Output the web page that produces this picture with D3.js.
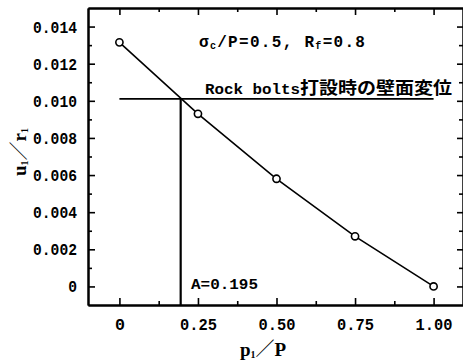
<!DOCTYPE html>
<html>
<head>
<meta charset="utf-8">
<script src="https://cdn.jsdelivr.net/npm/d3@7"></script>
<style>
  body { margin: 0; background: #fff; }
  svg { display: block; }
  .tick text { font-family: "Liberation Mono", "DejaVu Sans Mono", monospace; font-weight: bold; font-size: 17px; fill: #000; }
  .tick line, .domain { stroke: #000; }
</style>
</head>
<body>
<div id="chart"></div>
<script>
// p_i/P and u_i/r_i
var pRatio = [0, 0.25, 0.5, 0.75, 1.0];
var uRatio = [0.01315, 0.0093, 0.0058, 0.0027, 0.0];

var xTicks = [0, 0.25, 0.5, 0.75, 1.0];
var xMinor = [0.125, 0.375, 0.625, 0.875];
var yTicks = [0, 0.002, 0.004, 0.006, 0.008, 0.010, 0.012, 0.014];
var yMinor = [0.001, 0.003, 0.005, 0.007, 0.009, 0.011, 0.013];

var boltP = 0.195, boltU = 0.0101;

var margin = {top: 8, left: 88},
    width = 377,
    height = 297;

var svg = d3.select("#chart")
  .append("svg")
    .attr("width", 463)
    .attr("height", 362)
  .append("g")
    .attr("transform", "translate(" + margin.left + "," + margin.top + ")");

var x = d3.scaleLinear().domain([-0.1, 1.1]).range([0, width]);
var y = d3.scaleLinear().domain([-0.001, 0.015]).range([height, 0]);

function xfmt(d) { return d === 0 ? "0" : d3.format(".2f")(d); }
function yfmt(d) { return d === 0 ? "0" : d3.format(".3f")(d); }

// bottom axis
var xAxis = svg.append("g")
  .attr("transform", "translate(0," + height + ")")
  .call(d3.axisBottom(x).tickValues(xTicks).tickFormat(xfmt).tickSize(-7).tickSizeOuter(0).tickPadding(13));
xAxis.selectAll(".tick text").attr("textLength", function(d) { return xfmt(d).length * 9 + 1; }).attr("lengthAdjust", "spacingAndGlyphs");
svg.append("g")
  .attr("transform", "translate(0," + height + ")")
  .call(d3.axisBottom(x).tickValues(xMinor).tickFormat("").tickSize(-4).tickSizeOuter(0));

// top axis
svg.append("g")
  .call(d3.axisTop(x).tickValues(xTicks).tickFormat("").tickSize(-7).tickSizeOuter(0));
svg.append("g")
  .call(d3.axisTop(x).tickValues(xMinor).tickFormat("").tickSize(-4).tickSizeOuter(0));

// left axis
var yAxis = svg.append("g")
  .call(d3.axisLeft(y).tickValues(yTicks).tickFormat(yfmt).tickSize(-7).tickSizeOuter(0).tickPadding(11));
yAxis.selectAll(".tick text").attr("textLength", function(d) { return yfmt(d).length * 8.8; }).attr("lengthAdjust", "spacingAndGlyphs");
svg.append("g")
  .call(d3.axisLeft(y).tickValues(yMinor).tickFormat("").tickSize(-4).tickSizeOuter(0));

// right axis (mostly cut by the picture edge)
svg.append("g")
  .attr("transform", "translate(" + (width - 2) + ",0)")
  .call(d3.axisRight(y).tickValues(yTicks).tickFormat("").tickSize(-6).tickSizeOuter(0));
svg.append("g")
  .attr("transform", "translate(" + (width - 2) + ",0)")
  .call(d3.axisRight(y).tickValues(yMinor).tickFormat("").tickSize(-4).tickSizeOuter(0));

svg.selectAll(".domain").attr("stroke-width", 2);
svg.selectAll(".tick line").attr("stroke-width", 1.6);

// bolt lines
svg.append("line")
  .attr("x1", x(0)).attr("x2", x(1.0))
  .attr("y1", y(boltU)).attr("y2", y(boltU))
  .attr("stroke", "#000").attr("stroke-width", 1.8);
svg.append("line")
  .attr("x1", x(boltP)).attr("x2", x(boltP))
  .attr("y1", y(boltU)).attr("y2", height)
  .attr("stroke", "#000").attr("stroke-width", 2.2);

// curve
var pts = pRatio.map(function(p, i) { return [p, uRatio[i]]; });
svg.append("path")
  .datum(pts)
  .attr("fill", "none")
  .attr("stroke", "#000")
  .attr("stroke-width", 1.6)
  .attr("d", d3.line().x(function(d) { return x(d[0]); }).y(function(d) { return y(d[1]); }));
svg.selectAll("circle")
  .data(pts)
  .enter()
  .append("circle")
    .attr("cx", function(d) { return x(d[0]); })
    .attr("cy", function(d) { return y(d[1]); })
    .attr("r", 3.6)
    .attr("fill", "#fff")
    .attr("stroke", "#000")
    .attr("stroke-width", 1.6);

// annotations
var mono = "'Liberation Mono', 'DejaVu Sans Mono', monospace";
var t1 = svg.append("text")
  .attr("x", 111).attr("y", 39)
  .attr("letter-spacing", 1.3)
  .attr("font-family", mono).attr("font-weight", "bold").attr("font-size", 16);
t1.append("tspan").text("σ");
t1.append("tspan").attr("font-size", 10).attr("dy", 2).text("c");
t1.append("tspan").attr("dy", -2).text("/P=0.5, R");
t1.append("tspan").attr("font-size", 10).attr("dy", 2).text("f");
t1.append("tspan").attr("dy", -2).text("=0.8");

var t2 = svg.append("text")
  .attr("x", 117).attr("y", 86)
  .attr("font-weight", "bold");
t2.append("tspan").attr("font-family", mono).attr("font-size", 15)
  .attr("textLength", 95).attr("lengthAdjust", "spacingAndGlyphs").text("Rock bolts");
t2.append("tspan").attr("font-family", "'Noto Sans CJK JP', sans-serif").attr("font-size", 17)
  .attr("textLength", 152).attr("lengthAdjust", "spacingAndGlyphs").text("打設時の壁面変位");

svg.append("text")
  .attr("x", 103).attr("y", 281)
  .attr("font-family", mono).attr("font-weight", "bold").attr("font-size", 15)
  .attr("textLength", 67).attr("lengthAdjust", "spacingAndGlyphs")
  .text("A=0.195");

// axis titles
var serif = "'Liberation Serif', 'DejaVu Serif', serif";
var xl = svg.append("text")
  .attr("x", 175).attr("y", 348)
  .attr("text-anchor", "middle")
  .attr("font-family", serif).attr("font-weight", "bold").attr("font-size", 19);
xl.append("tspan").text("p");
xl.append("tspan").attr("font-size", 10).attr("dy", 2).text("1");
xl.append("tspan").attr("dy", -2).attr("font-family", "'Noto Sans CJK JP', sans-serif").attr("font-weight", "normal").text("／");
xl.append("tspan").text("P");

var yl = svg.append("text")
  .attr("transform", "translate(" + (26 - margin.left) + "," + (152 - margin.top) + ") rotate(-90)")
  .attr("text-anchor", "middle")
  .attr("font-family", serif).attr("font-weight", "bold").attr("font-size", 19);
yl.append("tspan").text("u");
yl.append("tspan").attr("font-size", 10).attr("dy", 2).text("1");
yl.append("tspan").attr("dy", -2).attr("font-family", "'Noto Sans CJK JP', sans-serif").attr("font-weight", "normal").text("／");
yl.append("tspan").text("r");
yl.append("tspan").attr("font-size", 10).attr("dy", 2).text("1");
</script>
</body>
</html>
